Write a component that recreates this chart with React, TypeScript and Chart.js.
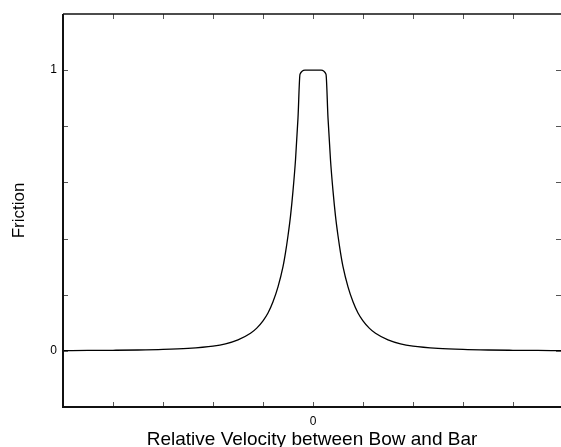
import React, { useEffect, useRef } from "react";
import { Chart, registerables } from "chart.js";

Chart.register(...registerables);

// Relative velocity (x) samples and friction values
const velocity: number[] = [
  -5, -4.5, -4, -3.5, -3, -2.5, -2, -1.75, -1.5, -1.25, -1.125, -1, -0.9, -0.8, -0.7, -0.6, -0.55,
  -0.5, -0.45, -0.4, -0.35, -0.3, -0.26, -0.16, 0.16, 0.26, 0.3, 0.35, 0.4, 0.45, 0.5, 0.55, 0.6,
  0.7, 0.8, 0.9, 1, 1.125, 1.25, 1.5, 1.75, 2, 2.5, 3, 3.5, 4, 4.5, 4.96,
];
const friction: number[] = [
  0.001, 0.0014, 0.002, 0.003, 0.005, 0.009, 0.017, 0.025, 0.039, 0.0625, 0.081, 0.107, 0.135,
  0.175, 0.228, 0.3, 0.35, 0.41, 0.48, 0.57, 0.68, 0.83, 0.985, 1.0, 1.0, 0.985, 0.83, 0.68, 0.57,
  0.48, 0.41, 0.35, 0.3, 0.228, 0.175, 0.135, 0.107, 0.081, 0.0625, 0.039, 0.025, 0.017, 0.009,
  0.005, 0.003, 0.002, 0.0014, 0.001,
];
const xRange: number[] = [-5, 4.96];
const yRange: number[] = [-0.2, 1.2];
const xLabelValues: number[] = [0];
const yLabelValues: number[] = [0, 1];
const xTitle = "Relative Velocity between Bow and Bar";
const yTitle = "Friction";

const FONT = "'Liberation Sans', Arial, Helvetica, sans-serif";

const framePlugin = {
  id: "frame",
  afterDraw(chart: any) {
    const { ctx, chartArea } = chart;
    const { left, right, top, bottom } = chartArea;
    const xs = chart.scales.x;
    const ys = chart.scales.y;
    ctx.save();
    ctx.strokeStyle = "#555";
    ctx.lineWidth = 1;
    const tl = 5;
    xs.ticks.forEach((t: any) => {
      if (Math.abs(t.value - Math.round(t.value)) > 1e-6) return;
      if (t.value <= xs.min || t.value >= xs.max) return;
      const px = Math.round(xs.getPixelForValue(t.value)) + 0.5;
      ctx.beginPath();
      ctx.moveTo(px, bottom);
      ctx.lineTo(px, bottom - tl);
      ctx.moveTo(px, top);
      ctx.lineTo(px, top + tl);
      ctx.stroke();
    });
    ys.ticks.forEach((t: any) => {
      if (t.value <= ys.min + 1e-9 || t.value >= ys.max - 1e-9) return;
      const py = Math.round(ys.getPixelForValue(t.value)) + 0.5;
      ctx.beginPath();
      ctx.moveTo(left, py);
      ctx.lineTo(left + tl, py);
      ctx.moveTo(right, py);
      ctx.lineTo(right - tl, py);
      ctx.stroke();
    });
    ctx.strokeStyle = "#111";
    ctx.lineWidth = 2;
    ctx.beginPath();
    ctx.moveTo(left, top);
    ctx.lineTo(left, bottom);
    ctx.lineTo(right + 2, bottom);
    ctx.stroke();
    ctx.lineWidth = 1.5;
    ctx.beginPath();
    ctx.moveTo(left, top);
    ctx.lineTo(right + 2, top);
    ctx.stroke();
    ctx.restore();
  },
};

export default function App() {
  const ref = useRef<HTMLCanvasElement>(null);
  useEffect(() => {
    document.body.style.margin = "0";
    const canvas = ref.current!;
    const chart = new Chart(canvas, {
      type: "line",
      data: {
        datasets: [
          {
            data: velocity.map((v, i) => ({ x: v, y: friction[i] })),
            borderColor: "#000",
            borderWidth: 1.3,
            pointRadius: 0,
            fill: false,
            cubicInterpolationMode: "monotone",
          },
        ],
      },
      options: {
        animation: false,
        responsive: false,
        devicePixelRatio: 1,
        layout: { padding: { top: 14, right: 0, left: 0, bottom: 0 } },
        plugins: { legend: { display: false }, tooltip: { enabled: false } },
        scales: {
          x: {
            type: "linear",
            min: xRange[0],
            max: xRange[1],
            grid: { display: false, drawTicks: false },
            border: { display: false },
            ticks: {
              stepSize: 1,
              autoSkip: false,
              maxRotation: 0,
              padding: 7,
              color: "#000",
              font: { family: FONT, size: 12 },
              callback: (v: any) =>
                xLabelValues.some((l) => Math.abs(l - Number(v)) < 1e-9) ? String(Math.round(Number(v))) : "",
            },
            title: {
              display: true,
              text: xTitle,
              color: "#000",
              font: { family: FONT, size: 19 },
              padding: { top: 0, bottom: -4 },
            },
            afterFit: (s: any) => {
              s.height = 40;
              s.paddingLeft = 0;
              s.paddingRight = 0;
            },
          },
          y: {
            type: "linear",
            min: yRange[0],
            max: yRange[1],
            grid: { display: false, drawTicks: false },
            border: { display: false },
            ticks: {
              stepSize: 0.2,
              autoSkip: false,
              padding: 6,
              color: "#000",
              font: { family: FONT, size: 12 },
              callback: (v: any) =>
                yLabelValues.some((l) => Math.abs(l - Number(v)) < 1e-9) ? String(Math.round(Number(v))) : "",
            },
            title: {
              display: true,
              text: yTitle,
              color: "#000",
              font: { family: FONT, size: 17 },
              padding: { top: 9, bottom: 0 },
            },
            afterFit: (s: any) => {
              s.width = 63;
              s.paddingTop = 0;
              s.paddingBottom = 0;
            },
          },
        },
      },
      plugins: [framePlugin],
    });
    return () => chart.destroy();
  }, []);
  return (
    <div style={{ position: "fixed", left: 0, top: 0, width: 561, height: 447, background: "#fff" }}>
      <canvas ref={ref} width={561} height={447} />
    </div>
  );
}
